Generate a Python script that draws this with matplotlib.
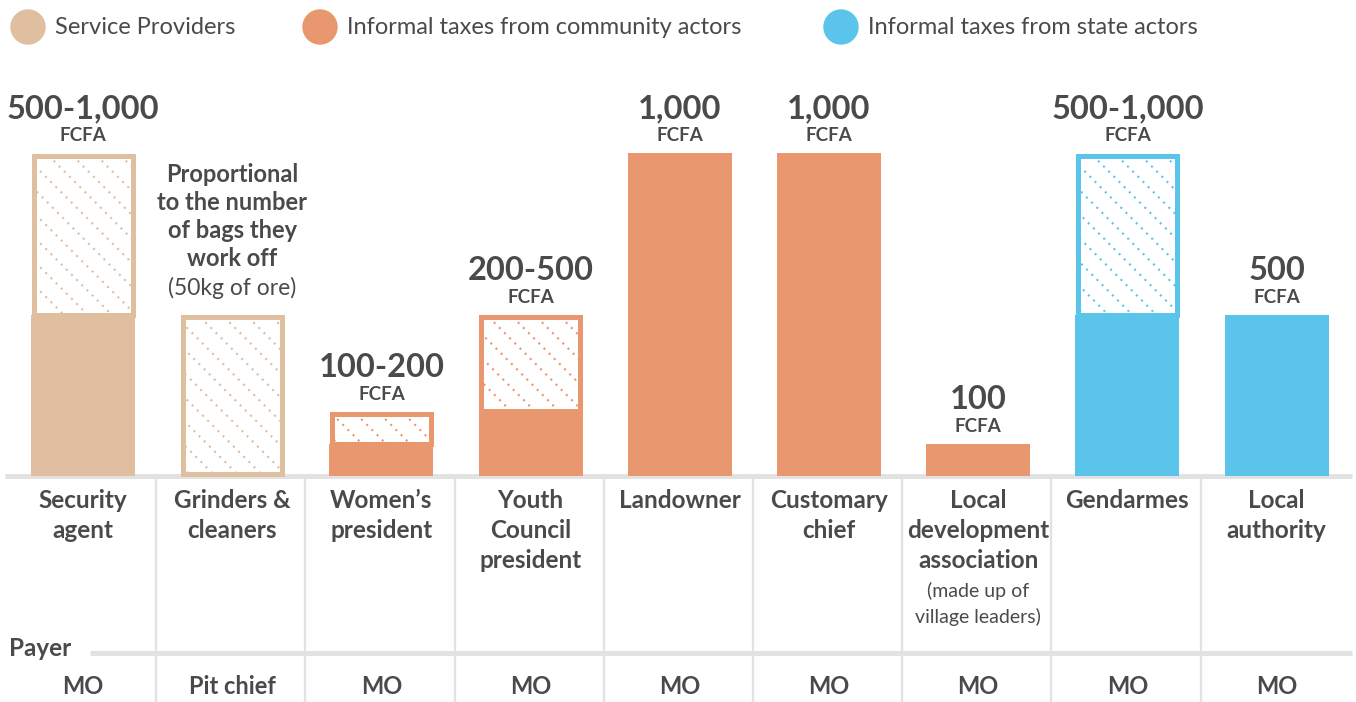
import matplotlib.pyplot as plt
import matplotlib.patches as mpatches
from matplotlib.lines import Line2D
from matplotlib.transforms import IdentityTransform
import numpy as np

plt.rcParams['font.family'] = ['Lato', 'DejaVu Sans']

# ── Data ──────────────────────────────────────────────
categories = ["Security\nagent", "Grinders &\ncleaners", "Women’s\npresident",
              "Youth\nCouncil\npresident", "Landowner", "Customary\nchief",
              "Local\ndevelopment\nassociation", "Gendarmes", "Local\nauthority"]
notes = {6: "(made up of\nvillage leaders)"}
payers = ["MO", "Pit chief", "MO", "MO", "MO", "MO", "MO", "MO", "MO"]
low = [500, 0, 100, 200, 1000, 1000, 100, 500, 500]      # FCFA, lower bound
high = [1000, 500, 200, 500, 1000, 1000, 100, 1000, 500]  # FCFA, upper bound
value_labels = ["500-1,000", None, "100-200", "200-500", "1,000", "1,000",
                "100", "500-1,000", "500"]
unit = "FCFA"
grinders_note = ["Proportional", "to the number", "of bags they", "work off"]
grinders_sub = "(50kg of ore)"
group = [0, 0, 1, 1, 1, 1, 1, 2, 2]
legend_labels = ["Service Providers", "Informal taxes from community actors",
                 "Informal taxes from state actors"]
colors = ['#E0BEA0', '#E9976E', '#5BC4EA']

TXT = '#4a4a4a'
GRID = '#e2e2e2'

# ── Layout (pixels) ───────────────────────────────────
W, H = 1356, 702
col_px = 149.2          # column pitch
x0_px = 83              # centre of first column
base_px = 476           # baseline, from top
scale = 0.323           # px per FCFA

fig = plt.figure(figsize=(W / 100, H / 100), dpi=100)
ax = fig.add_axes([0, 0, 1, 1])
ax.set_xlim(-x0_px / col_px, (W - x0_px) / col_px)
ax.set_ylim(-(H - base_px) / scale, base_px / scale)
ax.axis('off')


def yd(py):
    # pixel row (from top) -> data y
    return (base_px - py) / scale


def xd(px):
    return (px - x0_px) / col_px


x = np.arange(len(categories))
w = 104 / col_px
lw_px = 5
ins_x = lw_px / 2 / col_px
ins_y = lw_px / 2 / scale


def dotted_hatch(patch, color, step=24):
    bb = patch.get_window_extent()
    for k in np.arange(bb.x0 + bb.y0 + 6, bb.x1 + bb.y1, step):
        ln = Line2D([k - bb.y1, k - bb.y0], [bb.y1, bb.y0],
                    transform=IdentityTransform(), color=color, lw=1.5,
                    ls=(0, (1, 2.5)), zorder=3)
        ln.set_clip_path(patch)
        fig.add_artist(ln)


# baseline + grid
ax.plot([xd(5), xd(1352)], [0, 0], color=GRID, lw=3.6, zorder=1,
        solid_capstyle='butt')
ax.plot([xd(90), xd(1352)], [yd(653), yd(653)], color=GRID, lw=3.6, zorder=1,
        solid_capstyle='butt')
for i in x[:-1]:
    ax.plot([i + 0.49, i + 0.49], [yd(478), yd(H)], color=GRID, lw=1.7, zorder=1)

# bars
for i in x:
    c = colors[group[i]]
    if low[i] > 0:
        ax.bar(i, low[i], width=w, color=c, zorder=2)
    if high[i] > low[i]:
        bottom = low[i] if low[i] > 0 else ins_y
        top = high[i] - ins_y
        face = ax.bar(i, top - bottom, bottom=bottom, width=w - 2 * ins_x,
                      facecolor='white', edgecolor='none', zorder=2)[0]
        dotted_hatch(face, c)
        ax.bar(i, top - bottom, bottom=bottom, width=w - 2 * ins_x,
               facecolor='none', edgecolor=c, linewidth=lw_px * 0.72, zorder=4)
    if value_labels[i]:
        ax.annotate(value_labels[i], (i, high[i]), xytext=(0, 31.5),
                    textcoords='offset points', ha='center', va='center',
                    fontsize=23.5, fontweight='bold', color=TXT)
        ax.annotate(unit, (i, high[i]), xytext=(0, 12.5),
                    textcoords='offset points', ha='center', va='center',
                    fontsize=13.5, fontweight='bold', color=TXT)

# grinders note
for k, line in enumerate(grinders_note[::-1]):
    ax.annotate(line, (1, high[1]), xytext=(0, (56 + 28 * k) * 0.72),
                textcoords='offset points', ha='center', va='center',
                fontsize=17, fontweight='bold', color=TXT)
ax.annotate(grinders_sub, (1, high[1]), xytext=(0, 27 * 0.72),
            textcoords='offset points', ha='center', va='center',
            fontsize=16.5, color=TXT)

# category labels
for i in x:
    lines = categories[i].split("\n")
    for k, line in enumerate(lines):
        ax.text(i, yd(501 + 29.5 * k), line, ha='center', va='center',
                fontsize=17.5, fontweight='bold', color=TXT)
    if i in notes:
        for k, line in enumerate(notes[i].split("\n")):
            ax.text(i, yd(591 + 26 * k), line, ha='center', va='center',
                    fontsize=14, color=TXT)
    ax.text(i, yd(687), payers[i], ha='center', va='center',
            fontsize=17, fontweight='bold', color=TXT)

ax.text(xd(9), yd(649), "Payer", ha='left', va='center', fontsize=17.5,
        fontweight='bold', color=TXT)

# legend
leg_x = [28, 320, 841]
for lx, lab, c in zip(leg_x, legend_labels, colors):
    fig.add_artist(mpatches.Circle((lx, H - 27), 17, color=c,
                                   transform=IdentityTransform()))
    ax.text(xd(lx + 27), yd(27), lab, ha='left', va='center', fontsize=17,
            color=TXT)

fig.savefig('out.png', dpi=100)
